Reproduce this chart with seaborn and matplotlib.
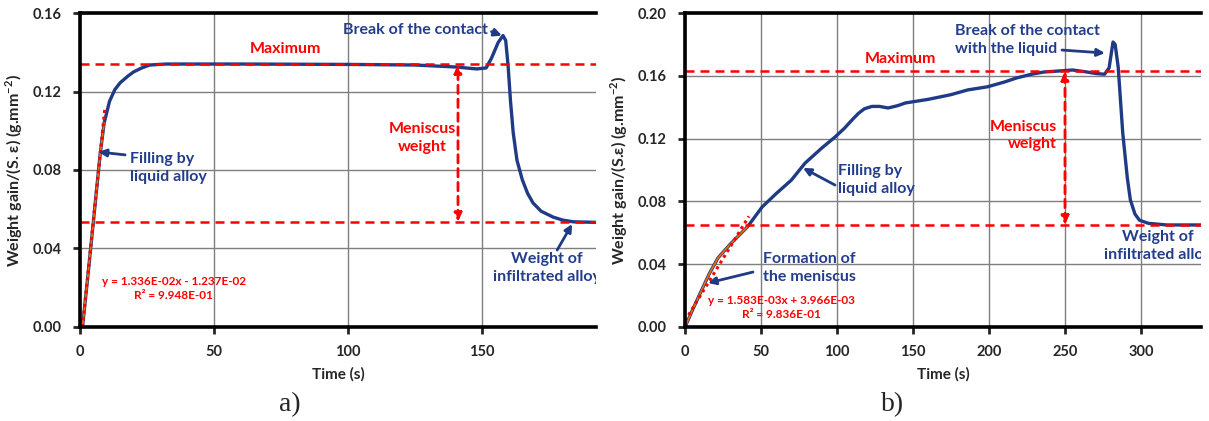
import matplotlib
matplotlib.use("Agg")
import matplotlib.pyplot as plt
import seaborn as sns
import pandas as pd

# data
time_a = [0, 1, 3, 5, 7.5, 9, 11, 13, 15, 18, 20, 23, 26, 32, 60, 100, 125, 140,
          148, 151.5, 153.5, 156, 157.8, 158.8, 159.7, 160.6, 161.6, 163, 165,
          167, 169, 172, 176.5, 180, 184, 193]
weight_a = [0, 0.001, 0.027, 0.054, 0.088, 0.104, 0.115, 0.121, 0.1245, 0.128,
            0.130, 0.132, 0.1335, 0.134, 0.134, 0.1338, 0.1335, 0.1325, 0.1315,
            0.132, 0.137, 0.145, 0.1485, 0.146, 0.133, 0.115, 0.099, 0.085,
            0.075, 0.068, 0.0632, 0.059, 0.056, 0.0545, 0.0536, 0.0533]
fit_a_t = [0.9, 9.3]
fit_a_w = [0.0, 0.112]
max_a = 0.134
infil_a = 0.0535
menisc_a_t = 141

time_b = [0, 5, 11, 16, 21.7, 30, 41, 50.7, 60, 70, 79, 90, 98.7, 105, 110, 114,
          118, 123, 128, 133.6, 140, 145, 160, 175, 186, 199, 210, 218, 228, 236,
          245, 255, 264, 270, 276, 279, 281.6, 283, 285, 288, 291, 293, 296, 299,
          305, 317, 340]
weight_b = [0, 0.011, 0.0236, 0.034, 0.044, 0.053, 0.0637, 0.0764, 0.085, 0.0936,
            0.1044, 0.114, 0.121, 0.1267, 0.132, 0.136, 0.139, 0.1405, 0.1405,
            0.1395, 0.141, 0.1427, 0.145, 0.148, 0.151, 0.153, 0.156, 0.1586,
            0.161, 0.1624, 0.163, 0.1637, 0.1625, 0.1615, 0.161, 0.165, 0.1815,
            0.180, 0.1656, 0.1236, 0.095, 0.081, 0.072, 0.068, 0.066, 0.065, 0.065]
fit_b_t = [0, 42]
fit_b_w = [0.004, 0.0705]
max_b = 0.163
infil_b = 0.065
menisc_b_t = 250

NAVY = "#1f3b85"
TXT = "#233d8c"
RED = "#ff0000"
ORANGE = "#e46c0a"

sns.set_style("ticks")
plt.rcParams["font.family"] = ["Lato", "DejaVu Sans"]
plt.rcParams["font.weight"] = "bold"
plt.rcParams["mathtext.fontset"] = "custom"
plt.rcParams["mathtext.bf"] = "Lato:bold"

fig = plt.figure(figsize=(12.09, 4.21), dpi=100)
ax1 = fig.add_axes([0.0662, 0.2233, 0.4268, 0.7458])
ax2 = fig.add_axes([0.5666, 0.2233, 0.4268, 0.7458])


def style_axes(ax, xmax, ymax, ylabel):
    ax.set_xlim(0, xmax)
    ax.set_ylim(0, ymax)
    ax.set_axisbelow(True)
    ax.grid(True, color="#7f7f7f", lw=1)
    for s in ["left", "bottom", "top"]:
        ax.spines[s].set_linewidth(2.6)
        ax.spines[s].set_color("black")
    ax.spines["right"].set_visible(False)
    ax.tick_params(direction="out", length=5, width=2, labelsize=10.5, pad=8)
    ax.tick_params(axis="y", pad=8)
    ax.set_xlabel("Time (s)", fontsize=11, fontweight="bold", labelpad=6)
    ax.set_ylabel(ylabel, fontsize=11.5, fontweight="bold", labelpad=6)
    for lab in ax.get_xticklabels() + ax.get_yticklabels():
        lab.set_fontweight("bold")


def draw_panel(ax, t, w, fit_t, fit_w, n_orange, ymax_line, ymin_line, mx):
    df = pd.DataFrame({"Time": t, "Weight": w})
    sns.lineplot(data=df, x="Time", y="Weight", ax=ax, color=NAVY, lw=2.4, sort=False)
    sns.lineplot(data=df.iloc[:n_orange], x="Time", y="Weight", ax=ax,
                 color=ORANGE, lw=1.3, sort=False)
    ax.plot(fit_t, fit_w, color=RED, lw=2.2, ls=(0, (1, 1.2)))
    ax.axhline(ymax_line, color=RED, lw=1.8, ls=(0, (3.6, 2.4)))
    ax.axhline(ymin_line, color=RED, lw=1.8, ls=(0, (3.6, 2.4)))
    ax.annotate("", xy=(mx, ymax_line), xytext=(mx, ymin_line),
                arrowprops=dict(arrowstyle="<|-|>,head_length=0.5,head_width=0.22",
                                color=RED, lw=2, ls=(0, (3, 2)), shrinkA=0, shrinkB=0))


def arrow(ax, tail, head):
    ax.annotate("", xy=head, xytext=tail,
                arrowprops=dict(arrowstyle="-|>,head_length=0.45,head_width=0.22",
                                color=NAVY, lw=2, shrinkA=0, shrinkB=0))


ylab_a = r"Weight gain/(S. ε) (g.mm$^{\mathbf{-2}}$)"
ylab_b = r"Weight gain/(S.ε) (g.mm$^{\mathbf{-2}}$)"

# ---- panel a
draw_panel(ax1, time_a, weight_a, fit_a_t, fit_a_w, 6, max_a, infil_a, menisc_a_t)
style_axes(ax1, 192.5, 0.16, ylab_a)
ax1.set_xticks([0, 50, 100, 150])
ax1.set_yticks([0, 0.04, 0.08, 0.12, 0.16])
ax1.set_yticklabels(["0.00", "0.04", "0.08", "0.12", "0.16"])

ax1.text(76.5, 0.1417, "Maximum", color=RED, fontsize=11.5, ha="center", va="center")
ax1.text(152.2, 0.1513, "Break of the contact", color=TXT, fontsize=11.5,
         ha="right", va="center")
arrow(ax1, (153.5, 0.1505), (157.4, 0.1485))
ax1.text(127.6, 0.0963, "Meniscus\nweight", color=RED, fontsize=11.5,
         ha="center", va="center", linespacing=1.3)
ax1.text(18.7, 0.081, "Filling by\nliquid alloy", color=TXT, fontsize=11.5,
         ha="left", va="center", linespacing=1.3)
arrow(ax1, (16.8, 0.0877), (6.9, 0.0892))
ax1.text(174.3, 0.0301, "Weight of\ninfiltrated alloy", color=TXT, fontsize=11.5,
         ha="center", va="center", linespacing=1.3, clip_on=True)
arrow(ax1, (178, 0.0392), (183.6, 0.0525))
ax1.text(35, 0.0195, "y = 1.336E-02x - 1.237E-02\nR² = 9.948E-01", color=RED,
         fontsize=8.5, ha="center", va="center", linespacing=1.35)

# ---- panel b
draw_panel(ax2, time_b, weight_b, fit_b_t, fit_b_w, 7, max_b, infil_b, menisc_b_t)
style_axes(ax2, 339.5, 0.20, ylab_b)
ax2.set_xticks([0, 50, 100, 150, 200, 250, 300])
ax2.set_yticks([0, 0.04, 0.08, 0.12, 0.16, 0.20])
ax2.set_yticklabels(["0.00", "0.04", "0.08", "0.12", "0.16", "0.20"])

ax2.text(142, 0.1707, "Maximum", color=RED, fontsize=11.5, ha="center", va="center")
ax2.text(177.6, 0.1828, "Break of the contact\nwith the liquid", color=TXT,
         fontsize=11.5, ha="left", va="center", linespacing=1.3)
arrow(ax2, (248, 0.1764), (276.3, 0.1745))
ax2.text(244.7, 0.122, "Meniscus\nweight", color=RED, fontsize=11.5,
         ha="right", va="center", multialignment="right", linespacing=1.3)
ax2.text(100.7, 0.0936, "Filling by\nliquid alloy", color=TXT, fontsize=11.5,
         ha="left", va="center", linespacing=1.3)
arrow(ax2, (98.7, 0.0904), (77.6, 0.1013))
ax2.text(51.3, 0.0376, "Formation of\nthe meniscus", color=TXT, fontsize=11.5,
         ha="left", va="center", linespacing=1.3)
arrow(ax2, (44.7, 0.035), (15.1, 0.028))
ax2.text(63.2, 0.0124, "y = 1.583E-03x + 3.966E-03\nR² = 9.836E-01", color=RED,
         fontsize=8.5, ha="center", va="center", linespacing=1.35)
ax2.text(311, 0.0516, "Weight of\ninfiltrated alloy", color=TXT, fontsize=11.5,
         ha="center", va="center", linespacing=1.3, clip_on=True)

fig.text(290 / 1209, 1 - 405 / 421, "a)", family="Liberation Serif",
         fontweight="normal", fontsize=20, ha="center", va="center")
fig.text(893 / 1209, 1 - 405 / 421, "b)", family="Liberation Serif",
         fontweight="normal", fontsize=20, ha="center", va="center")

fig.savefig("out.png", dpi=100)
